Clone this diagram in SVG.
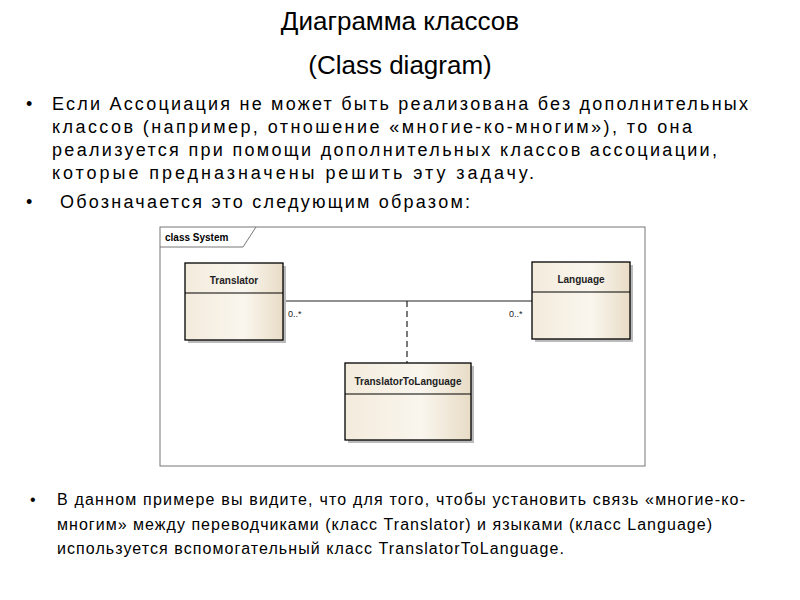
<svg xmlns="http://www.w3.org/2000/svg" width="800" height="600" viewBox="0 0 800 600">
<defs>
<linearGradient id="g" x1="0" x2="1" y1="0" y2="0"><stop offset="0" stop-color="#f3ebdc"/><stop offset="0.6" stop-color="#faf6ee"/><stop offset="1" stop-color="#e8dcc6"/></linearGradient>
</defs>
<style>
text{font-family:"Liberation Sans",Arial,sans-serif;fill:#000}
.t{font-size:26px;text-anchor:middle}
.b{font-size:18px}
.s{font-size:16px}
.cls{fill:url(#g);stroke:#000;stroke-width:1.3}
.n{font-size:10px;font-weight:bold;text-anchor:middle;fill:#222}
.m{font-size:9px;fill:#222}
.sh{fill:#bbb}
</style>
<rect width="800" height="600" fill="#fff"/>
<text class="t" x="400" y="30">Диаграмма классов</text>
<text class="t" x="400" y="74">(Class diagram)</text>
<g class="b">
<text x="26" y="110">•</text>
<text x="52" y="110" textLength="696">Если Ассоциация не может быть реализована без дополнительных</text>
<text x="52" y="133" textLength="640">классов (например, отношение «многие-ко-многим»), то она</text>
<text x="52" y="156" textLength="665">реализуется при помощи дополнительных классов ассоциации,</text>
<text x="52" y="179" textLength="482">которые предназначены решить эту задачу.</text>
<text x="26" y="208">•</text>
<text x="60" y="208" textLength="410">Обозначается это следующим образом:</text>
</g>
<g id="frame">
<rect x="160" y="227" width="485" height="239" fill="#fff" stroke="#777" stroke-width="1"/>
<path d="M160 247 H243 L256 227" fill="none" stroke="#777"/>
<text x="165" y="241" font-size="10" font-weight="bold" fill="#222">class System</text>
</g>
<g id="connectors">
<line x1="283" y1="301" x2="532" y2="301" stroke="#222" stroke-width="1.2"/>
<line x1="407" y1="301" x2="407" y2="363" stroke="#222" stroke-width="1.2" stroke-dasharray="6,4"/>
<text class="m" x="288" y="317">0..*</text>
<text class="m" x="509" y="317">0..*</text>
</g>
<g id="Translator">
<rect class="sh" x="188" y="266" width="98" height="77"/>
<rect class="cls" x="185" y="263" width="98" height="77"/>
<line x1="185" y1="293" x2="283" y2="293" stroke="#000"/>
<text class="n" x="234" y="284">Translator</text>
</g>
<g id="Language">
<rect class="sh" x="535" y="265" width="98" height="77"/>
<rect class="cls" x="532" y="262" width="98" height="77"/>
<line x1="532" y1="292" x2="630" y2="292" stroke="#000"/>
<text class="n" x="581" y="283">Language</text>
</g>
<g id="TranslatorToLanguage">
<rect class="sh" x="348" y="366" width="126" height="77"/>
<rect class="cls" x="345" y="363" width="126" height="77"/>
<line x1="345" y1="394" x2="471" y2="394" stroke="#000"/>
<text class="n" x="408" y="385">TranslatorToLanguage</text>
</g>
<g class="s">
<text x="30" y="505">•</text>
<text x="57" y="505" textLength="688">В данном примере вы видите, что для того, чтобы установить связь «многие-ко-</text>
<text x="57" y="530" textLength="655">многим» между переводчиками (класс Translator) и языками (класс Language)</text>
<text x="57" y="554" textLength="507">используется вспомогательный класс TranslatorToLanguage.</text>
</g>
</svg>
